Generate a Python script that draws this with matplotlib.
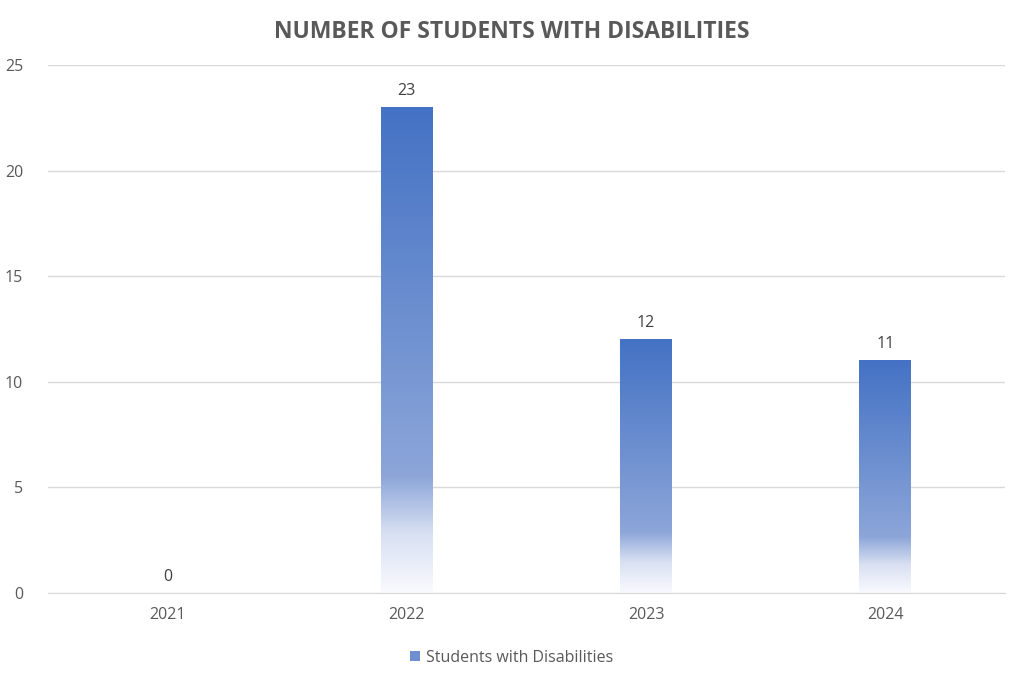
import numpy as np
import matplotlib
matplotlib.use("Agg")
import matplotlib.pyplot as plt
from matplotlib.colors import LinearSegmentedColormap
from matplotlib.patches import Patch

years = ["2021", "2022", "2023", "2024"]
students = [0, 23, 12, 11]
series_name = "Students with Disabilities"

plt.rcParams['font.family'] = ['Open Sans', 'DejaVu Sans']

# gradient fill: dark blue at top, fading to white at bottom
grad = LinearSegmentedColormap.from_list("grad", [
    (0.0, (0.98, 0.98, 1.0)),
    (0.12, (0.85, 0.88, 0.95)),
    (0.24, (0.55, 0.65, 0.85)),
    (1.0, (0.267, 0.447, 0.769)),
])

fig = plt.figure(figsize=(10.24, 6.82), dpi=100)
ax = fig.add_axes([48 / 1024, 1 - 593 / 682, (1005 - 48) / 1024, (593 - 65) / 682])

x = np.arange(len(years))
width = 0.217
bars = ax.bar(x, students, width=width, color="none", zorder=2)

g = np.linspace(0, 1, 256).reshape(-1, 1)
for b, v in zip(bars, students):
    if v > 0:
        x0 = b.get_x()
        ax.imshow(g, cmap=grad, origin="lower", aspect="auto",
                  extent=[x0, x0 + b.get_width(), 0, v], zorder=2)
    ax.text(b.get_x() + b.get_width() / 2, v + 0.4, str(v), ha="center",
            va="bottom", fontsize=11.5, color="#404040")

ax.set_xlim(-0.5, 3.5)
ax.set_ylim(0, 25)
ax.set_yticks(range(0, 26, 5))
ax.set_xticks(x)
ax.set_xticklabels(years)
ax.yaxis.grid(True, color="#d9d9d9", linewidth=1, zorder=0)
ax.set_axisbelow(True)
for s in ["top", "right", "left"]:
    ax.spines[s].set_visible(False)
ax.spines["bottom"].set_color("#d9d9d9")
ax.tick_params(axis="both", length=0, labelsize=11.5, labelcolor="#595959")
ax.tick_params(axis="x", pad=10)
ax.tick_params(axis="y", pad=18)

fig.suptitle("NUMBER OF STUDENTS WITH DISABILITIES", y=0.97, fontsize=16.5,
             fontweight="bold", color="#595959")

handle = Patch(facecolor="#6f8fd2", edgecolor="none")
fig.legend([handle], [series_name], loc="lower center", bbox_to_anchor=(0.5, 0.003),
           frameon=False, fontsize=11.5, labelcolor="#595959",
           handlelength=0.6, handleheight=0.6, handletextpad=0.4)

fig.savefig("out.png", dpi=100)
